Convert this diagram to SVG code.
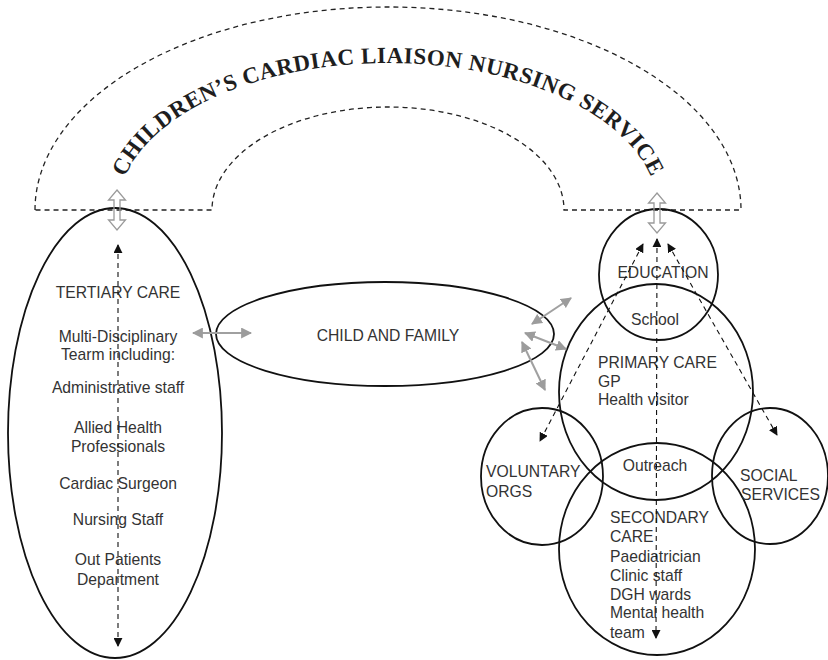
<svg xmlns="http://www.w3.org/2000/svg" xmlns:xlink="http://www.w3.org/1999/xlink" width="828" height="660" viewBox="0 0 828 660">
  <style>
    .node { fill: none; stroke: #111; stroke-width: 1.8; }
    .arch { fill: none; stroke: #222; stroke-width: 1.3; stroke-dasharray: 5 4; }
    .label { font-family: "Liberation Sans", Arial, sans-serif; font-size: 15.7px; fill: #333; }
    .mid { text-anchor: middle; }
    .title { font-family: "Liberation Serif", "Times New Roman", serif; font-weight: 700; font-size: 23px; fill: #1e1e1e; letter-spacing: 0.5px; }
    .dash { fill: none; stroke: #111; stroke-width: 1.1; stroke-dasharray: 5 4; marker-start: url(#tri); marker-end: url(#tri); }
    .grey { fill: none; stroke: #a0a0a0; stroke-width: 2; marker-start: url(#gtri); marker-end: url(#gtri); }
    .hollow { fill: none; stroke: #9a9a9a; stroke-width: 1.3; }
  </style>
  <defs>
    <marker id="tri" viewBox="0 0 10 10" refX="9" refY="5" markerWidth="9" markerHeight="9" markerUnits="userSpaceOnUse" orient="auto-start-reverse">
      <path d="M0,0 L10,5 L0,10 Z" fill="#111"/>
    </marker>
    <marker id="gtri" viewBox="0 0 10 10" refX="9" refY="5" markerWidth="11" markerHeight="11" markerUnits="userSpaceOnUse" orient="auto-start-reverse">
      <path d="M0,0 L10,5 L0,10 Z" fill="#9c9c9c"/>
    </marker>
    <path id="titlePath" d="M118,210 A270,147 0 0 1 658,210"/>
  </defs>

  <!-- service arch -->
  <g id="service">
    <path class="arch" d="M35,210 A353,203 0 0 1 741,210 L564,210 A176,103 0 0 0 212,210 Z"/>
    <text class="title"><textPath href="#titlePath" xlink:href="#titlePath" startOffset="50%" text-anchor="middle">CHILDREN’S CARDIAC LIAISON NURSING SERVICE</textPath></text>
  </g>

  <!-- tertiary care -->
  <g id="tertiary">
    <ellipse class="node" cx="115" cy="433" rx="107" ry="225"/>
    <text class="label mid" x="118" y="298">TERTIARY CARE</text>
    <text class="label mid" x="118" y="342">Multi-Disciplinary</text>
    <text class="label mid" x="118" y="360">Tearm including:</text>
    <text class="label mid" x="118" y="393">Administrative staff</text>
    <text class="label mid" x="118" y="433">Allied Health</text>
    <text class="label mid" x="118" y="452">Professionals</text>
    <text class="label mid" x="118" y="489">Cardiac Surgeon</text>
    <text class="label mid" x="118" y="525">Nursing Staff</text>
    <text class="label mid" x="118" y="565">Out Patients</text>
    <text class="label mid" x="118" y="585">Department</text>
  </g>

  <!-- child and family -->
  <g id="child-family">
    <ellipse class="node" cx="385" cy="334" rx="169" ry="52"/>
    <text class="label mid" x="388" y="341">CHILD AND FAMILY</text>
  </g>

  <!-- community services cluster -->
  <g id="education">
    <ellipse class="node" cx="658.5" cy="274.5" rx="59.5" ry="65.5"/>
    <text class="label mid" x="663" y="278">EDUCATION</text>
    <text class="label mid" x="655" y="325">School</text>
  </g>
  <g id="primary">
    <ellipse class="node" cx="656" cy="392" rx="97" ry="108"/>
    <text class="label" x="598" y="368">PRIMARY CARE</text>
    <text class="label" x="598" y="387">GP</text>
    <text class="label" x="598" y="405">Health visitor</text>
  </g>
  <g id="secondary">
    <ellipse class="node" cx="657" cy="549" rx="98" ry="106"/>
    <text class="label mid" x="655" y="471">Outreach</text>
    <text class="label" x="610" y="523">SECONDARY</text>
    <text class="label" x="610" y="542">CARE</text>
    <text class="label" x="610" y="562">Paediatrician</text>
    <text class="label" x="610" y="581">Clinic staff</text>
    <text class="label" x="610" y="600">DGH wards</text>
    <text class="label" x="610" y="618">Mental health</text>
    <text class="label" x="610" y="638">team</text>
  </g>
  <g id="voluntary">
    <ellipse class="node" cx="542" cy="476.5" rx="61" ry="68.5"/>
    <text class="label" x="486" y="477">VOLUNTARY</text>
    <text class="label" x="486" y="497">ORGS</text>
  </g>
  <g id="social">
    <ellipse class="node" cx="770" cy="476" rx="58" ry="68"/>
    <text class="label" x="740" y="481">SOCIAL</text>
    <text class="label" x="741" y="500">SERVICES</text>
  </g>

  <!-- connectors -->
  <g id="connectors">
    <polygon class="hollow" points="117,190 125.5,200 120,200 120,220 125.5,220 117,230 108.5,220 114,220 114,200 108.5,200"/>
    <polygon class="hollow" points="657,193 665.5,203 660,203 660,223 665.5,223 657,233 648.5,223 654,223 654,203 648.5,203"/>
    <line class="dash" x1="118" y1="245" x2="118" y2="646"/>
    <line class="dash" x1="657" y1="239" x2="656" y2="638"/>
    <line class="dash" x1="643" y1="244" x2="540" y2="441"/>
    <line class="dash" x1="668" y1="244" x2="777" y2="435"/>
    <line class="grey" x1="193" y1="333" x2="251" y2="333"/>
    <line class="grey" x1="532" y1="324" x2="571" y2="298"/>
    <line class="grey" x1="525" y1="333" x2="566" y2="349"/>
    <line class="grey" x1="522" y1="342" x2="545" y2="390"/>
  </g>
</svg>
